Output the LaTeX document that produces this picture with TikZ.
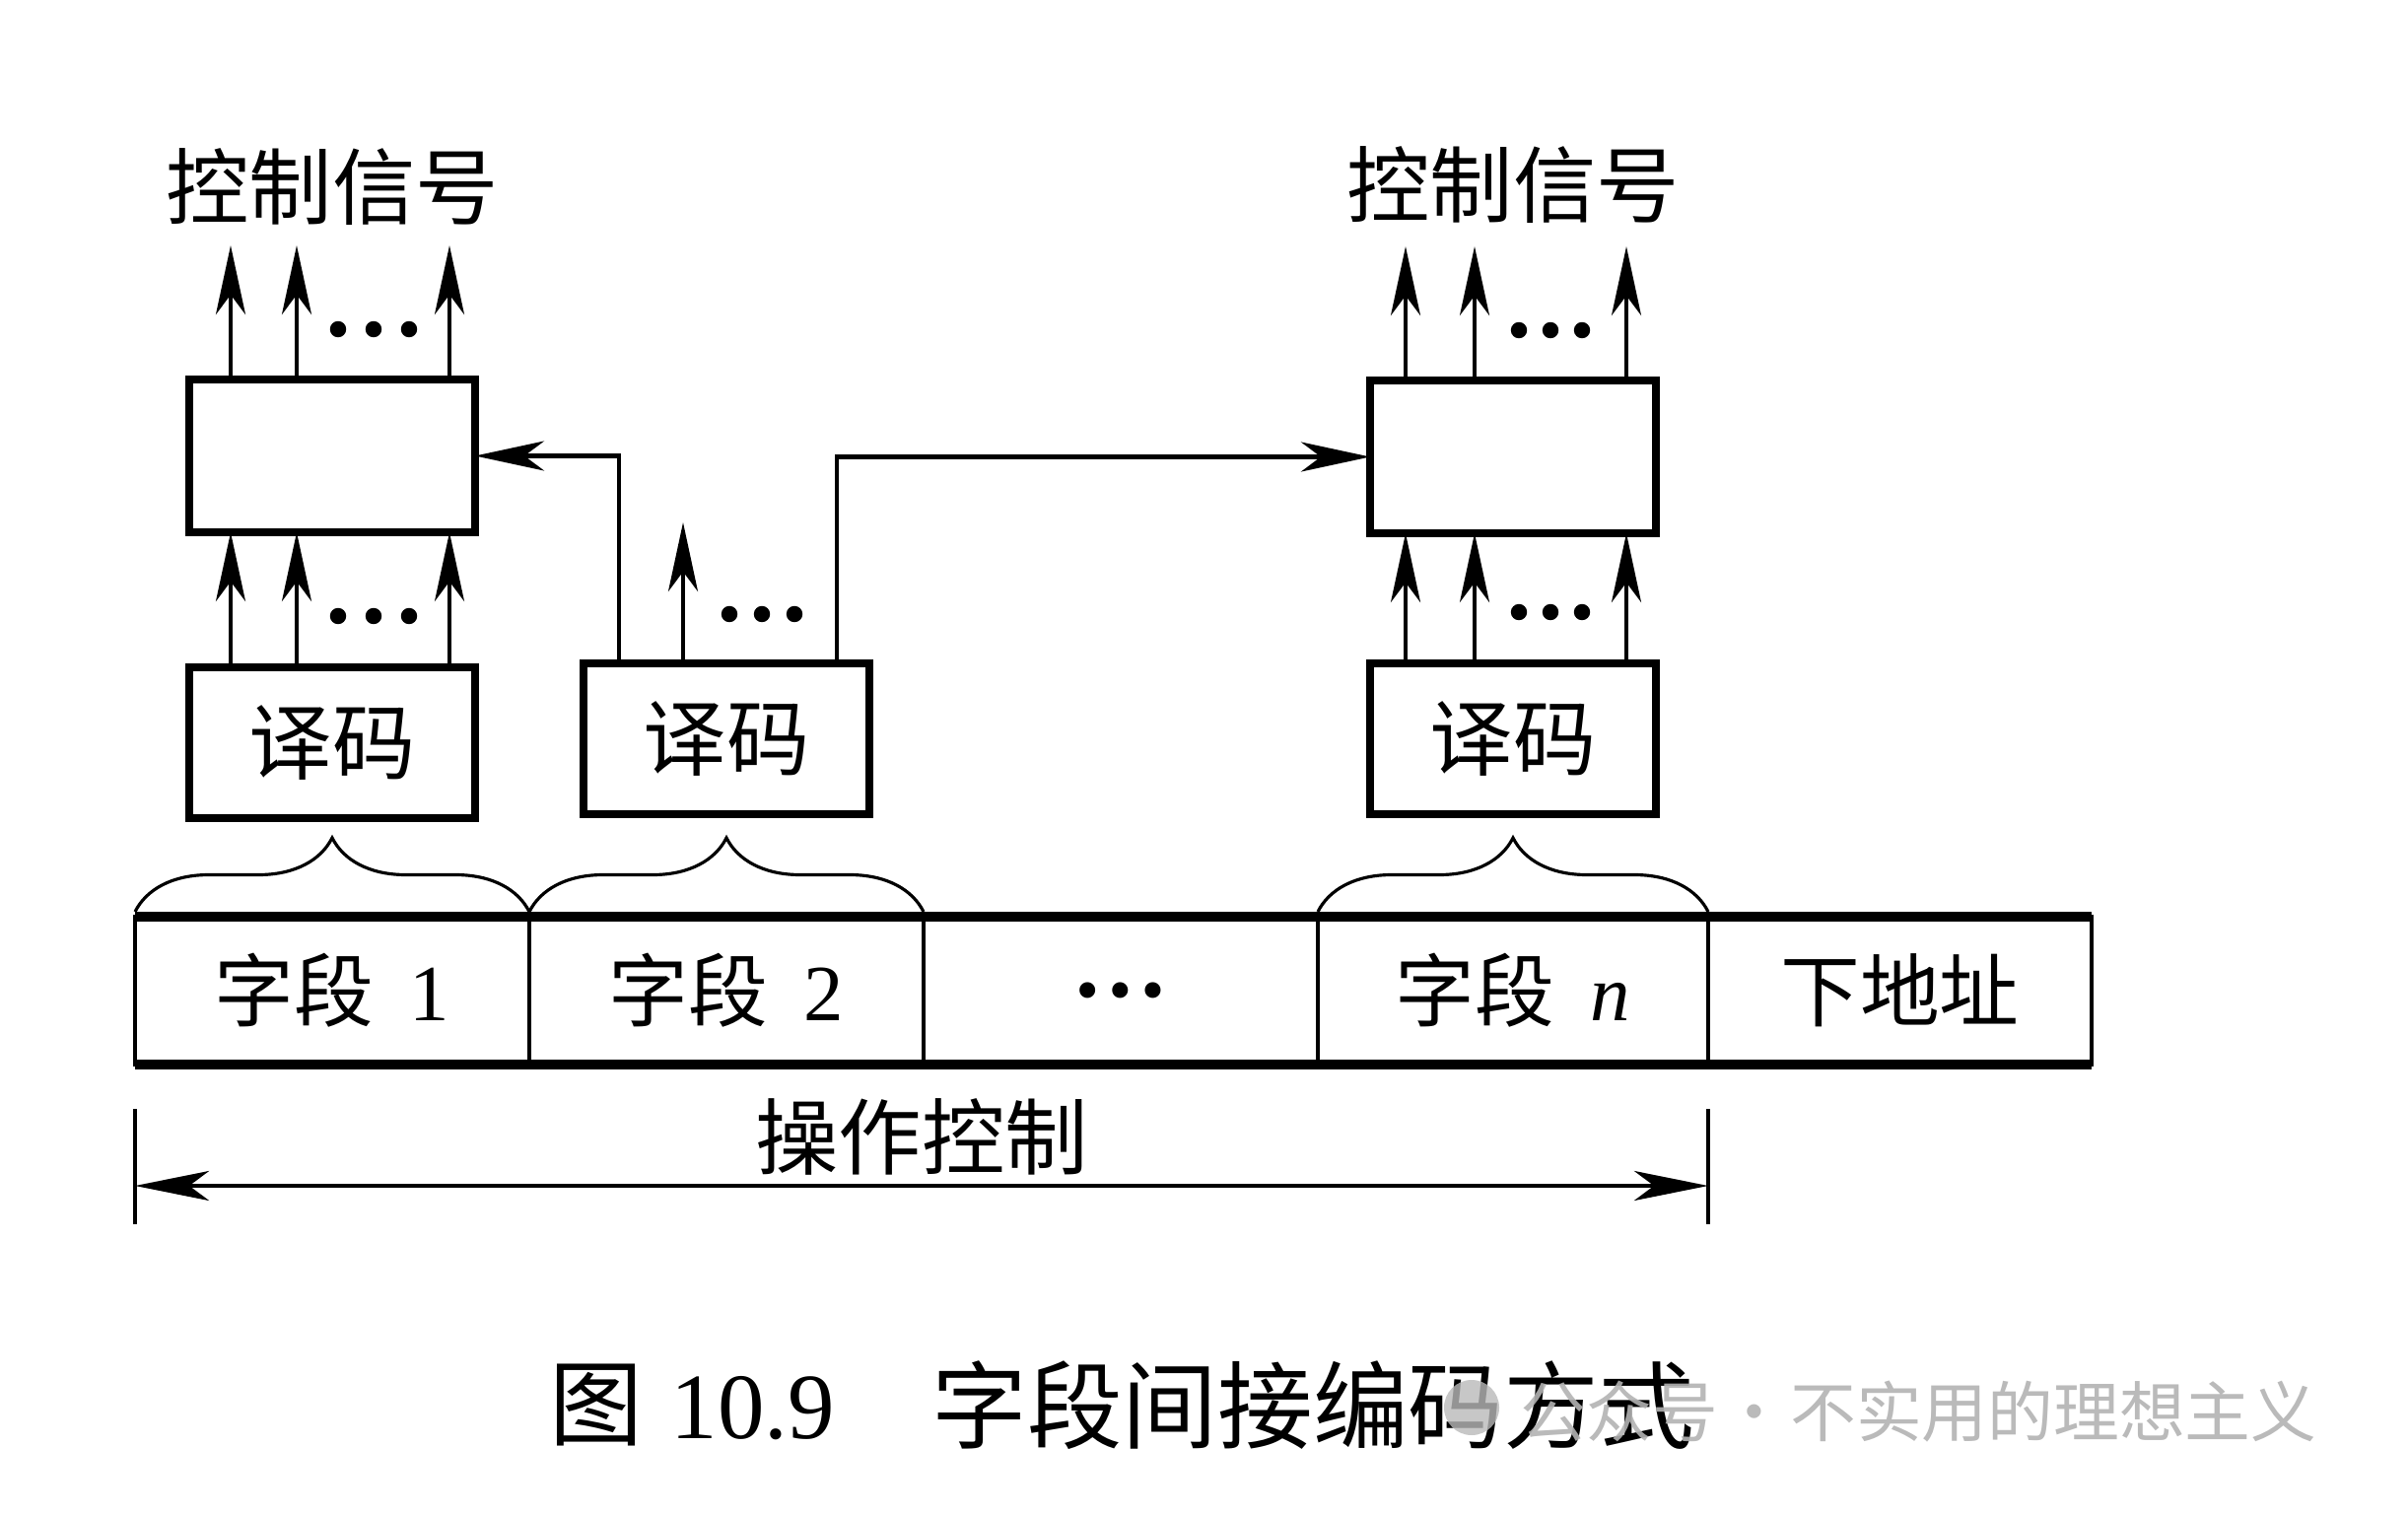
\documentclass[tikz,border=0pt]{standalone}
\usepackage{fontspec}
\setmainfont{Liberation Serif}
\newfontfamily\cjk{Noto Sans CJK SC}
\usepackage{tikz}
\usetikzlibrary{arrows.meta,positioning,calc,decorations.pathreplacing}

\tikzset{
  box/.style={draw, line width=2.1pt, inner sep=0pt, outer sep=0pt, minimum width=2.9cm, minimum height=1.53cm, font=\cjk\fontsize{24}{28}\selectfont},
  field/.style={draw, line width=0.9pt, inner sep=0pt, outer sep=0pt, minimum width=4cm, minimum height=1.5cm, font=\fontsize{23}{26}\selectfont},
  sig/.style={line width=1.2pt, -{Stealth[length=0.7cm,width=0.3cm,inset=0.2cm]}},
  lbl/.style={font=\cjk\fontsize{24}{28}\selectfont},
  brc/.style={line width=0.9pt, decorate, decoration={brace, amplitude=0.75cm}}
}

\begin{document}
\begin{tikzpicture}
        \useasboundingbox (0,0) rectangle (24.43,-15.36);

        \node[field] (f1) at (3.37,-10.05) {{\cjk 字段}\hspace{0.45em}1};
        \node[field, right=0pt of f1] (f2) {{\cjk 字段}\hspace{0.45em}2};
        \node[field, right=0pt of f2] (f3) {\fontsize{28}{30}\selectfont\bfseries …};
        \node[field, right=0pt of f3, minimum width=3.96cm] (f4) {{\cjk 字段}\hspace{0.45em}\textit{n}};
        \node[field, right=0pt of f4, minimum width=3.89cm] (f5) {{\cjk 下地址}};
        \draw[line width=3pt] (f1.north west) -- (f5.north east);
        \draw[line width=3pt] (f1.south west) -- (f5.south east);

        \node[box, above=1cm of f1] (dec1) {译码};
        \node[box, above=1.04cm of f2] (dec2) {译码};
        \node[box, above=1.04cm of f4] (dec3) {译码};
        \node[box, above=1.37cm of dec1, minimum height=1.55cm] (reg1) {};
        \node[box, above=1.32cm of dec3, minimum height=1.55cm] (reg2) {};

        \draw[brc] ([yshift=0.05cm]f1.north west) -- ([yshift=0.05cm]f1.north east);
        \draw[brc] ([yshift=0.05cm]f2.north west) -- ([yshift=0.05cm]f2.north east);
        \draw[brc] ([yshift=0.05cm]f4.north west) -- ([yshift=0.05cm]f4.north east);

        \draw[sig] ([xshift=0.42cm]dec1.north west) -- ([xshift=0.42cm]reg1.south west);
        \draw[sig] ([xshift=1.09cm]dec1.north west) -- ([xshift=1.09cm]reg1.south west);
        \draw[sig] ([xshift=2.64cm]dec1.north west) -- ([xshift=2.64cm]reg1.south west);
        \filldraw ([xshift=1.51cm,yshift=0.52cm]dec1.north west) circle (0.075);
        \filldraw ([xshift=1.87cm,yshift=0.52cm]dec1.north west) circle (0.075);
        \filldraw ([xshift=2.23cm,yshift=0.52cm]dec1.north west) circle (0.075);

        \draw[sig] ([xshift=0.42cm]reg1.north west) -- ++(0,1.36);
        \draw[sig] ([xshift=1.09cm]reg1.north west) -- ++(0,1.36);
        \draw[sig] ([xshift=2.64cm]reg1.north west) -- ++(0,1.36);
        \filldraw ([xshift=1.51cm,yshift=0.51cm]reg1.north west) circle (0.075);
        \filldraw ([xshift=1.87cm,yshift=0.51cm]reg1.north west) circle (0.075);
        \filldraw ([xshift=2.23cm,yshift=0.51cm]reg1.north west) circle (0.075);
        \node[lbl] (out1) at ([yshift=1.95cm]reg1.north) {控制信号};

        \draw[sig] ([xshift=1.01cm]dec2.north west) -- ++(0,1.43);
        \filldraw ([xshift=1.48cm,yshift=0.5cm]dec2.north west) circle (0.075);
        \filldraw ([xshift=1.81cm,yshift=0.5cm]dec2.north west) circle (0.075);
        \filldraw ([xshift=2.14cm,yshift=0.5cm]dec2.north west) circle (0.075);
        \draw[sig] ([xshift=0.36cm]dec2.north west) |- (reg1.east);
        \draw[sig] ([xshift=2.57cm]dec2.north west) |- (reg2.west);

        \draw[sig] ([xshift=0.36cm]dec3.north west) -- ([xshift=0.36cm]reg2.south west);
        \draw[sig] ([xshift=1.06cm]dec3.north west) -- ([xshift=1.06cm]reg2.south west);
        \draw[sig] ([xshift=2.6cm]dec3.north west) -- ([xshift=2.6cm]reg2.south west);
        \filldraw ([xshift=1.51cm,yshift=0.52cm]dec3.north west) circle (0.075);
        \filldraw ([xshift=1.83cm,yshift=0.52cm]dec3.north west) circle (0.075);
        \filldraw ([xshift=2.15cm,yshift=0.52cm]dec3.north west) circle (0.075);

        \draw[sig] ([xshift=0.36cm]reg2.north west) -- ++(0,1.36);
        \draw[sig] ([xshift=1.06cm]reg2.north west) -- ++(0,1.36);
        \draw[sig] ([xshift=2.6cm]reg2.north west) -- ++(0,1.36);
        \filldraw ([xshift=1.51cm,yshift=0.51cm]reg2.north west) circle (0.075);
        \filldraw ([xshift=1.83cm,yshift=0.51cm]reg2.north west) circle (0.075);
        \filldraw ([xshift=2.15cm,yshift=0.51cm]reg2.north west) circle (0.075);
        \node[lbl] (out2) at ([yshift=1.98cm]reg2.north) {控制信号};

        \coordinate (opl) at ([yshift=-1.23cm]f1.south west);
        \coordinate (opr) at ([yshift=-1.23cm]f4.south east);
        \draw[line width=0.9pt] ([yshift=0.78cm]opl) -- ([yshift=-0.39cm]opl);
        \draw[line width=0.9pt] ([yshift=0.78cm]opr) -- ([yshift=-0.39cm]opr);
        \draw[line width=1.4pt, {Stealth[length=0.75cm,width=0.3cm,inset=0.2cm]}-{Stealth[length=0.75cm,width=0.3cm,inset=0.2cm]}] (opl) -- (opr);
        \node[lbl] (op) at ($(opl)!0.5!(opr)+(0,0.5)$) {操作控制};

        \node[anchor=west, font=\fontsize{27}{30}\selectfont] (cap1) at (5.45,-14.26) {{\cjk 图}\hspace{0.3em}10.9};
        \node[anchor=west, font=\cjk\fontsize{27.5}{30}\selectfont] (cap2) at (9.33,-14.26) {字段间接编码方式};

        \fill[gray!55, opacity=0.8] (14.93,-14.28) circle (0.28);
        \node[anchor=west, text=gray!60, opacity=0.9, font=\cjk\fontsize{19}{22}\selectfont] (wm) at (15.30,-14.32) {公众号\hspace{0.05em}·\hspace{0.05em}不实用的理想主义};

        \end{tikzpicture}
\end{document}
